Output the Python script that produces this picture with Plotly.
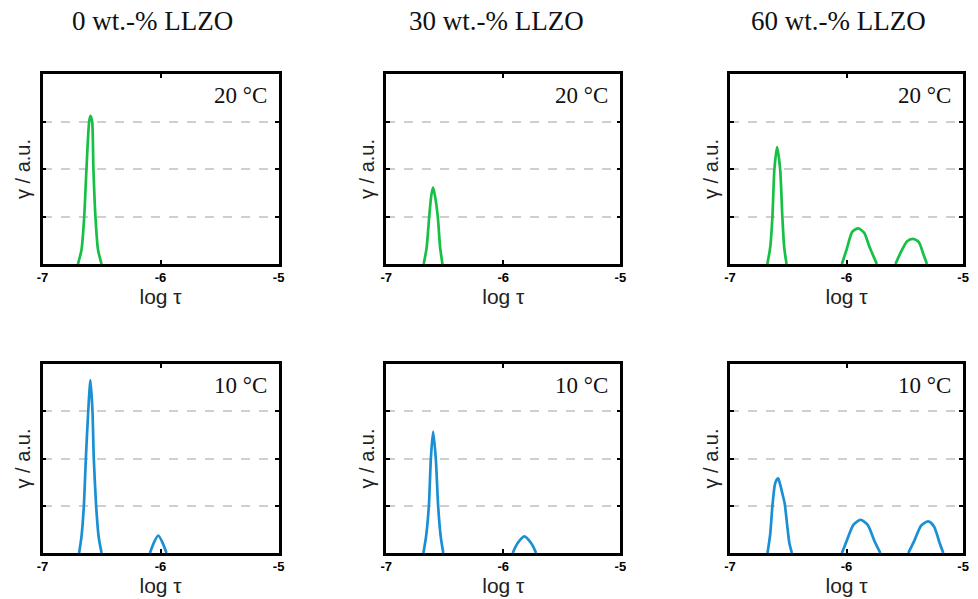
import plotly.graph_objects as go

# ---------------- data ----------------
compositions = ["0 wt.-% LLZO", "30 wt.-% LLZO", "60 wt.-% LLZO"]
temperatures = ["20 °C", "10 °C"]
x_ticks = [-7, -6, -5]
x_tick_labels = ["-7", "-6", "-5"]
y_grid = [1, 2, 3]

# 20 °C row
x_0wt_20C = [-6.70, -6.67, -6.647, -6.628, -6.605, -6.594, -6.58, -6.569, -6.552, -6.53, -6.50]
y_0wt_20C = [0, 0.3, 1.0, 2.0, 3.0, 3.12, 3.0, 2.0, 1.0, 0.3, 0]

x_30wt_20C = [-6.68, -6.655, -6.633, -6.615, -6.60, -6.585, -6.56, -6.54, -6.52]
y_30wt_20C = [0, 0.35, 1.0, 1.45, 1.61, 1.45, 1.0, 0.35, 0]

x_60wt_20C = [-6.68, -6.655, -6.636, -6.619, -6.596, -6.570, -6.551, -6.535, -6.515, None,
              -6.04, -6.00, -5.95, -5.90, -5.85, -5.80, -5.74, None,
              -5.58, -5.54, -5.48, -5.43, -5.38, -5.34, -5.31]
y_60wt_20C = [0, 0.35, 1.0, 2.0, 2.46, 2.0, 1.0, 0.35, 0, None,
              0, 0.3, 0.68, 0.75, 0.66, 0.34, 0, None,
              0, 0.22, 0.48, 0.53, 0.46, 0.2, 0]

# 10 °C row
x_0wt_10C = [-6.69, -6.67, -6.65, -6.633, -6.613, -6.594, -6.577, -6.566, -6.546, -6.525, -6.50, None,
             -6.09, -6.06, -6.02, -5.98, -5.95]
y_0wt_10C = [0, 0.35, 1, 2, 3, 3.66, 3, 2, 1, 0.35, 0, None,
             0, 0.2, 0.37, 0.2, 0]

x_30wt_10C = [-6.683, -6.66, -6.636, -6.619, -6.60, -6.577, -6.557, -6.535, -6.513, None,
              -5.92, -5.88, -5.82, -5.76, -5.72]
y_30wt_10C = [0, 0.35, 1, 2, 2.57, 2, 1, 0.35, 0, None,
              0, 0.2, 0.35, 0.2, 0]

x_60wt_10C = [-6.678, -6.655, -6.636, -6.615, -6.600, -6.587, -6.570, -6.551, -6.531, -6.51, -6.49, -6.469, None,
              -6.04, -6.00, -5.94, -5.88, -5.82, -5.76, -5.71, None,
              -5.47, -5.42, -5.36, -5.30, -5.25, -5.20, -5.17]
y_60wt_10C = [0, 0.4, 1.0, 1.45, 1.55, 1.58, 1.45, 1.26, 1.05, 0.6, 0.2, 0, None,
              0, 0.25, 0.6, 0.70, 0.6, 0.25, 0, None,
              0, 0.25, 0.58, 0.67, 0.56, 0.2, 0]

series = [
    [(x_0wt_20C, y_0wt_20C), (x_30wt_20C, y_30wt_20C), (x_60wt_20C, y_60wt_20C)],
    [(x_0wt_10C, y_0wt_10C), (x_30wt_10C, y_30wt_10C), (x_60wt_10C, y_60wt_10C)],
]
row_colors = ["#17bf45", "#1b8fd3"]

# ---------------- layout ----------------
W, H = 978, 599
col_px = [(37, 276), (385, 622), (733, 969)]
row_px = [(74, 264), (364, 553)]

fig = go.Figure()
layout = dict(
    width=W, height=H, margin=dict(l=0, r=0, t=0, b=0),
    paper_bgcolor="white", plot_bgcolor="white", showlegend=False,
    annotations=[],
)

idx = 0
for r in range(2):
    for c in range(3):
        idx += 1
        xa = "xaxis" if idx == 1 else f"xaxis{idx}"
        ya = "yaxis" if idx == 1 else f"yaxis{idx}"
        xr = "x" if idx == 1 else f"x{idx}"
        yr = "y" if idx == 1 else f"y{idx}"
        xs, ys = series[r][c]
        fig.add_trace(go.Scatter(
            x=xs, y=ys, mode="lines", xaxis=xr, yaxis=yr,
            line=dict(color=row_colors[r], width=2.7, shape="spline", smoothing=0.7),
            connectgaps=False, hoverinfo="skip",
        ))
        x0, x1 = col_px[c]
        y0, y1 = row_px[r]
        layout[xa] = dict(
            domain=[x0 / W, x1 / W], anchor=yr, range=[-7, -5],
            tickvals=x_ticks, ticktext=x_tick_labels, ticks="inside", ticklen=4, tickwidth=2,
            tickcolor="black", showline=True, linewidth=2.5, linecolor="black", mirror="ticks",
            showgrid=False, zeroline=False,
            tickfont=dict(family="Liberation Sans", size=13, color="black", weight="bold"),
            title=dict(text="log τ", font=dict(family="Liberation Sans", size=21, color="#222"), standoff=2),
        )
        layout[ya] = dict(
            domain=[1 - y1 / H, 1 - y0 / H], anchor=xr, range=[0, 4],
            tickvals=y_grid, showticklabels=False, ticks="inside", ticklen=4, tickwidth=2,
            tickcolor="black", showline=True, linewidth=2.5, linecolor="black", mirror="ticks",
            showgrid=True, gridcolor="#cfcfcf", gridwidth=1.5, griddash="dash", zeroline=False,
            title=dict(text="γ / a.u.", font=dict(family="Liberation Sans", size=20, color="#222"), standoff=4),
        )
        # temperature label
        layout["annotations"].append(dict(
            text=temperatures[r], xref="paper", yref="paper",
            x=(x1 - 10) / W, y=1 - (y0 + 21) / H, xanchor="right", yanchor="middle",
            showarrow=False, font=dict(family="Liberation Serif", size=23, color="#111"),
        ))

for c in range(3):
    layout["annotations"].append(dict(
        text=compositions[c], xref="paper", yref="paper",
        x=[148, 497, 843][c] / W, y=1 - 21 / H, xanchor="center", yanchor="middle",
        showarrow=False, font=dict(family="Liberation Serif", size=27, color="#111"),
    ))

fig.update_layout(**layout)
fig.write_html("out.html")
